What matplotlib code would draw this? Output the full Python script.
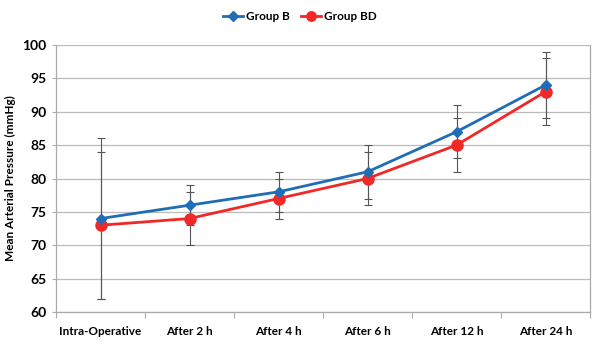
import matplotlib
matplotlib.use("Agg")
import matplotlib.pyplot as plt
import numpy as np

categories = ["Intra-Operative", "After 2 h", "After 4 h", "After 6 h", "After 12 h", "After 24 h"]
group_b = [74, 76, 78, 81, 87, 94]
group_b_err = [12, 3, 3, 4, 4, 5]
group_bd = [73, 74, 77, 80, 85, 93]
group_bd_err = [11, 4, 3, 4, 4, 5]
yticks = [60, 65, 70, 75, 80, 85, 90, 95, 100]

plt.rcParams['font.family'] = ['Lato', 'DejaVu Sans']

fig = plt.figure(figsize=(6, 3.51), dpi=100)
ax = fig.add_axes([56/600, 1-312/351, (590-56)/600, (312-45)/351])

x = np.arange(len(categories))
blue = "#1F6EB5"
red = "#F02828"
ecol = "#555555"

ax.errorbar(x, group_b, yerr=group_b_err, fmt='none', ecolor=ecol, elinewidth=0.8, capsize=3, capthick=0.8, zorder=2)
ax.errorbar(x, group_bd, yerr=group_bd_err, fmt='none', ecolor=ecol, elinewidth=0.8, capsize=3, capthick=0.8, zorder=2)
ax.plot(x, group_b, color=blue, lw=2, marker='D', markersize=5.5, label="Group B", zorder=4)
ax.plot(x, group_bd, color=red, lw=2, marker='o', markersize=8, label="Group BD", zorder=3)

ax.set_xlim(-0.5, len(categories) - 0.5)
ax.set_ylim(60, 100)
ax.set_yticks(yticks)
ax.set_xticks(x)
ax.set_xticklabels(categories, fontsize=8.5, fontweight='bold')
ax.set_xticks(np.arange(-0.5, len(categories)), minor=True)
ax.tick_params(axis='x', which='major', length=0, pad=10)
ax.tick_params(axis='x', which='minor', length=4, color="#AAAAAA", width=0.8)
ax.tick_params(axis='y', length=3, color="#AAAAAA", width=0.8, labelsize=10, pad=4)
for lab in ax.get_yticklabels():
    lab.set_fontweight('bold')

ax.grid(axis='y', color="#BBBBBB", lw=0.9)
ax.set_axisbelow(True)
for s in ['left', 'bottom', 'right']:
    ax.spines[s].set_color("#AAAAAA")
    ax.spines[s].set_linewidth(0.9)
ax.spines['top'].set_visible(False)

ax.set_ylabel("Mean Arterial Pressure (mmHg)", fontsize=8.5, fontweight='bold')
ax.yaxis.set_label_coords((16-56)/534, 0.5)

leg = fig.legend(loc='center', bbox_to_anchor=(0.5, 1-17/351), ncol=2, frameon=False,
                 prop={'weight': 'bold', 'size': 8.5}, handlelength=1.7, columnspacing=1.0,
                 handletextpad=0.2, markerscale=0.85)

fig.savefig("out.png", dpi=100)
